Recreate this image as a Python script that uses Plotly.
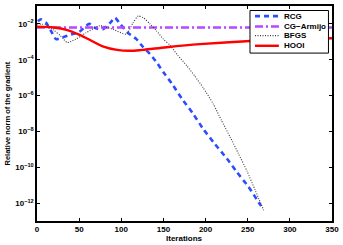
import numpy as np
import plotly.graph_objects as go

# --- data (log10 of relative gradient norm) ---
rcg_x = [1, 4.7, 10.7, 16.6, 22.5, 30, 40, 50, 62, 70, 78, 87, 92.5, 98.5, 108, 118, 126, 134, 142,
         150, 160, 172, 185, 197, 211, 225, 237, 251, 265, 268]
rcg_log = [-1.85, -1.74, -1.93, -2.39, -2.85, -2.76, -2.6, -2.45, -2.0, -2.25, -2.3, -1.93, -1.65, -2.0,
           -2.5, -2.85, -3.3, -3.67, -4.15, -4.7, -5.33, -6.18, -7.0, -7.85, -8.7, -9.5, -10.26, -11.1,
           -12.1, -12.3]

cg_x = [0, 350]
cg_log = [-2.2, -2.2]

bfgs_x = [0, 11, 20, 28, 36, 46, 58, 75, 90, 106, 114, 120, 126, 134, 142, 150, 158, 167, 178, 187,
          197, 209, 219, 229, 239, 249, 259, 269]
bfgs_log = [-2.0, -2.05, -2.35, -2.67, -3.04, -2.85, -2.5, -2.1, -2.3, -2.57, -1.93, -1.56, -1.65, -2.0,
            -2.4, -2.85, -3.2, -3.75, -4.35, -4.9, -5.55, -6.46, -7.4, -8.3, -9.24, -10.2, -11.3, -12.4]

hooi_x = [0, 20, 35, 50, 63, 78, 95, 110, 125, 154, 193, 253, 350]
hooi_log = [-2.15, -2.2, -2.33, -2.6, -2.9, -3.25, -3.45, -3.5, -3.45, -3.3, -3.13, -2.95, -2.8]

series_names = ["RCG", "CG\u2212Armijo", "BFGS", "HOOI"]
x_ticks = [0, 50, 100, 150, 200, 250, 300, 350]
y_tick_exp = [-12, -10, -8, -6, -4, -2]

FONT = "Liberation Sans"
styles = [
    dict(color="#2a4dff", width=2.6, dash="5px,4px"),
    dict(color="#b847ff", width=2.4, dash="8px,3px,2px,3px"),
    dict(color="#3a3a3a", width=1.1, dash="1px,1.5px"),
    dict(color="#ff0000", width=2.4),
]

fig = go.Figure()
data = [(rcg_x, rcg_log, 0.6), (cg_x, cg_log, 0), (bfgs_x, bfgs_log, 0.6), (hooi_x, hooi_log, 1.0)]
for (xs, ls, sm), name, st in zip(data, series_names, styles):
    line = dict(st)
    if sm > 0:
        line.update(shape="spline", smoothing=sm)
    fig.add_trace(go.Scatter(x=xs, y=10.0 ** np.array(ls), mode="lines", name=name,
                             line=line, showlegend=False))

# compact legend box (Plotly's native legend rows are too tall at this size)
fig.add_shape(type="rect", xref="paper", yref="paper", x0=0.722, x1=0.988, y0=0.781, y1=0.979,
              line=dict(color="black", width=1), fillcolor="white", layer="above")
row_y = [0.953, 0.905, 0.862, 0.815]
for name, st, ry in zip(series_names, styles, row_y):
    fig.add_shape(type="line", xref="paper", yref="paper", x0=0.739, x1=0.820, y0=ry, y1=ry,
                  line=dict(color=st["color"], width=st["width"], dash=st.get("dash", "solid")),
                  layer="above")
    fig.add_annotation(xref="paper", yref="paper", x=0.832, y=ry, xanchor="left", yanchor="middle",
                       text=f"<b>{name}</b>", showarrow=False, font=dict(size=8, family=FONT))

# axis titles
fig.add_annotation(xref="paper", yref="paper", x=0.5, y=0, yshift=-17, xanchor="center",
                   yanchor="middle", text="<b>Iterations</b>", showarrow=False,
                   font=dict(size=8, family=FONT))
fig.add_annotation(xref="paper", yref="paper", x=0, y=0.5, xshift=-30, xanchor="center",
                   yanchor="middle", textangle=-90, text="<b>Relative norm of the gradient</b>",
                   showarrow=False, font=dict(size=7.5, family=FONT))

fig.update_layout(
    width=343, height=245,
    margin=dict(l=37, r=11, t=6, b=24, autoexpand=False),
    paper_bgcolor="white", plot_bgcolor="white",
    font=dict(family=FONT, size=8, color="black"),
    showlegend=False,
)
fig.update_xaxes(
    range=[0, 350], tickvals=x_ticks, ticktext=[f"<b>{v}</b>" for v in x_ticks],
    showgrid=False, zeroline=False, showline=True, linecolor="black", linewidth=1.5, mirror="allticks",
    ticks="inside", ticklen=3, tickcolor="black", automargin=False, tickfont=dict(size=8),
)
fig.update_yaxes(
    type="log", range=[-13, -1],
    tickvals=[10.0 ** e for e in y_tick_exp],
    ticktext=[f"<b>10<sup>\u2212{-e}</sup></b>" for e in y_tick_exp],
    showgrid=False, zeroline=False, showline=True, linecolor="black", linewidth=1.5, mirror="allticks",
    ticks="inside", ticklen=3, tickcolor="black", automargin=False, tickfont=dict(size=8),
)

fig.write_html("out.html", config={"displayModeBar": False},
               post_script="document.body.style.margin='0';document.body.style.padding='0';"
                           "document.body.style.overflow='hidden';")
